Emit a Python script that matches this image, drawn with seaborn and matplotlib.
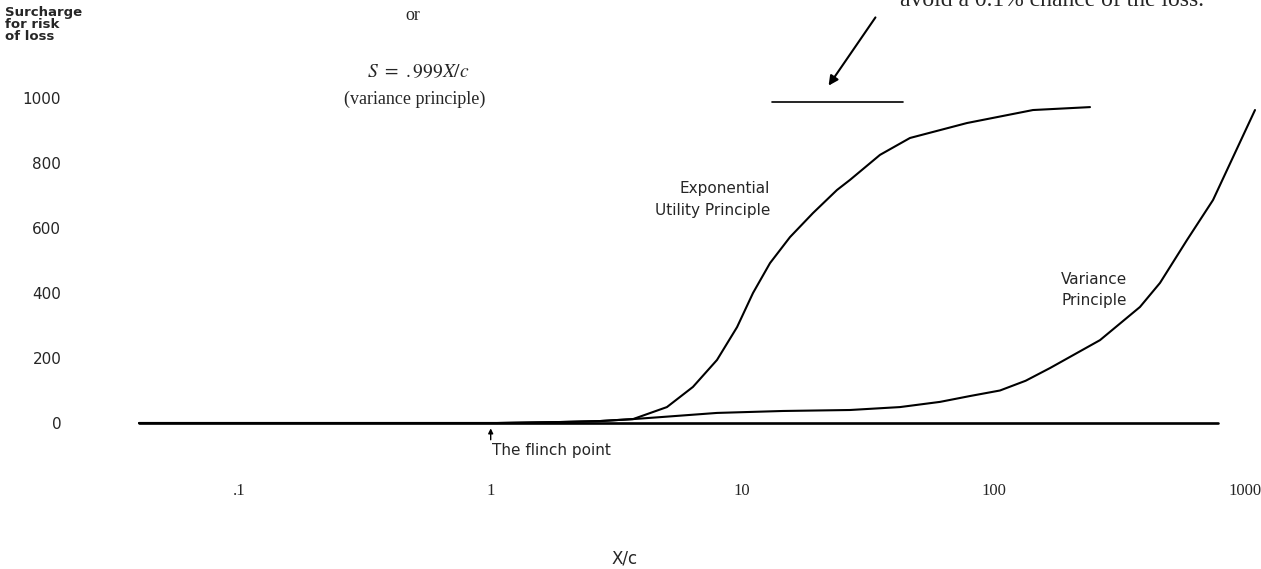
import numpy as np
import pandas as pd
import matplotlib
matplotlib.use("Agg")
import matplotlib.pyplot as plt
import seaborn as sns

# values (x is X/c on a log axis, y is surcharge)
exp_x = [0.040, 1.06, 1.89, 2.72, 3.68, 5.02, 6.37, 7.94, 9.54, 11.04, 12.9, 15.49,
         19.12, 23.82, 26.83, 35.31, 46.47, 78.3, 143.3, 241.5]
exp_y = [0, 0, 3, 6, 12, 49, 111, 194, 295, 400, 492, 572,
         646, 717, 748, 825, 877, 923, 963, 972]

var_x = [0.040, 1.06, 1.89, 2.72, 3.68, 4.71, 7.94, 14.53, 26.83, 42.4, 61.2, 80.5,
         105.9, 134, 167.4, 264.7, 381.6, 458.4, 586.9, 744.8, 1094]
var_y = [0, 0, 3, 6, 12, 18, 31, 37, 40, 49, 65, 83,
         100, 130, 169, 255, 357, 431, 563, 686, 963]

base_x = [0.040, 779]
base_y = [0, 0]

cap_x = [13.14, 43.6]
cap_y = [988, 988]

x_ticks = [0.1, 1, 10, 100, 1000]
x_ticklabels = ['.1', '1', '10', '100', '1000']
y_ticks = [0, 200, 400, 600, 800, 1000]

sns.set_theme(style='white')
plt.rcParams['font.family'] = ['DejaVu Sans']

W, H = 1261, 569
fig = plt.figure(figsize=(W / 100, H / 100), dpi=100)
ax = fig.add_axes([80 / W, (H - 440) / H, 1181 / W, 360 / H])

def px(x, y):
    return x / W, 1 - y / H

df_exp = pd.DataFrame({'x': exp_x, 'y': exp_y})
df_var = pd.DataFrame({'x': var_x, 'y': var_y})
df_base = pd.DataFrame({'x': base_x, 'y': base_y})
df_cap = pd.DataFrame({'x': cap_x, 'y': cap_y})

sns.lineplot(data=df_base, x='x', y='y', ax=ax, color='black', lw=1.9, estimator=None, sort=False)
sns.lineplot(data=df_exp, x='x', y='y', ax=ax, color='black', lw=1.5, estimator=None, sort=False)
sns.lineplot(data=df_var, x='x', y='y', ax=ax, color='black', lw=1.5, estimator=None, sort=False)
sns.lineplot(data=df_cap, x='x', y='y', ax=ax, color='black', lw=1.2, estimator=None, sort=False)

ax.set_xscale('log')
ax.set_xlim(0.02328, 1155.8)
ax.set_ylim(-52.3, 1055.4)
ax.set_xticks(x_ticks)
ax.set_xticklabels(x_ticklabels, family='Liberation Serif', fontsize=12)
ax.minorticks_off()
ax.set_yticks(y_ticks)
ax.set_yticklabels([str(v) for v in y_ticks], fontsize=11)
ax.tick_params(axis='x', length=0, pad=31)
ax.tick_params(axis='y', length=0, pad=13.5)
for s in ax.spines.values():
    s.set_visible(False)
ax.set_ylabel('')
ax.set_xlabel('X/c', fontsize=12)
ax.xaxis.set_label_coords(0.4615, -0.305)

# arrow pointing at the 1000 cap
ax.annotate('', xy=(21.74, 1031), xytext=(34.36, 1255),
            arrowprops=dict(arrowstyle='-|>', color='black', lw=1.5, mutation_scale=14),
            annotation_clip=False)
# flinch point arrow
ax.annotate('', xy=(1.0, -8), xytext=(1.0, -60),
            arrowprops=dict(arrowstyle='-|>', color='black', lw=1.0, mutation_scale=7),
            annotation_clip=False)

fig.text(*px(5, 6), 'Surcharge\nfor risk\nof loss', fontsize=9.5, fontweight='bold',
         linespacing=0.88, ha='left', va='top')
fig.text(*px(413, 15), 'or', family='Liberation Serif', fontsize=13, ha='center', va='center')
fig.text(*px(418, 72), r'$S\ =\ \mathrm{.999}X/c$', fontsize=14, ha='center', va='center',
         math_fontfamily='stix')
fig.text(*px(415, 99), '(variance principle)', family='Liberation Serif', fontsize=13,
         ha='center', va='center')
fig.text(*px(1204, 6), 'avoid a 0.1% chance of the loss.', family='Liberation Serif',
         fontsize=17, ha='right', va='baseline')

fig.text(*px(770, 189), 'Exponential', fontsize=11, ha='right', va='center')
fig.text(*px(770, 211), 'Utility Principle', fontsize=11, ha='right', va='center')
fig.text(*px(1127, 279), 'Variance', fontsize=11, ha='right', va='center')
fig.text(*px(1127, 301), 'Principle', fontsize=11, ha='right', va='center')
fig.text(*px(492, 451), 'The flinch point', fontsize=11, ha='left', va='center')

fig.savefig('out.png', dpi=100)
